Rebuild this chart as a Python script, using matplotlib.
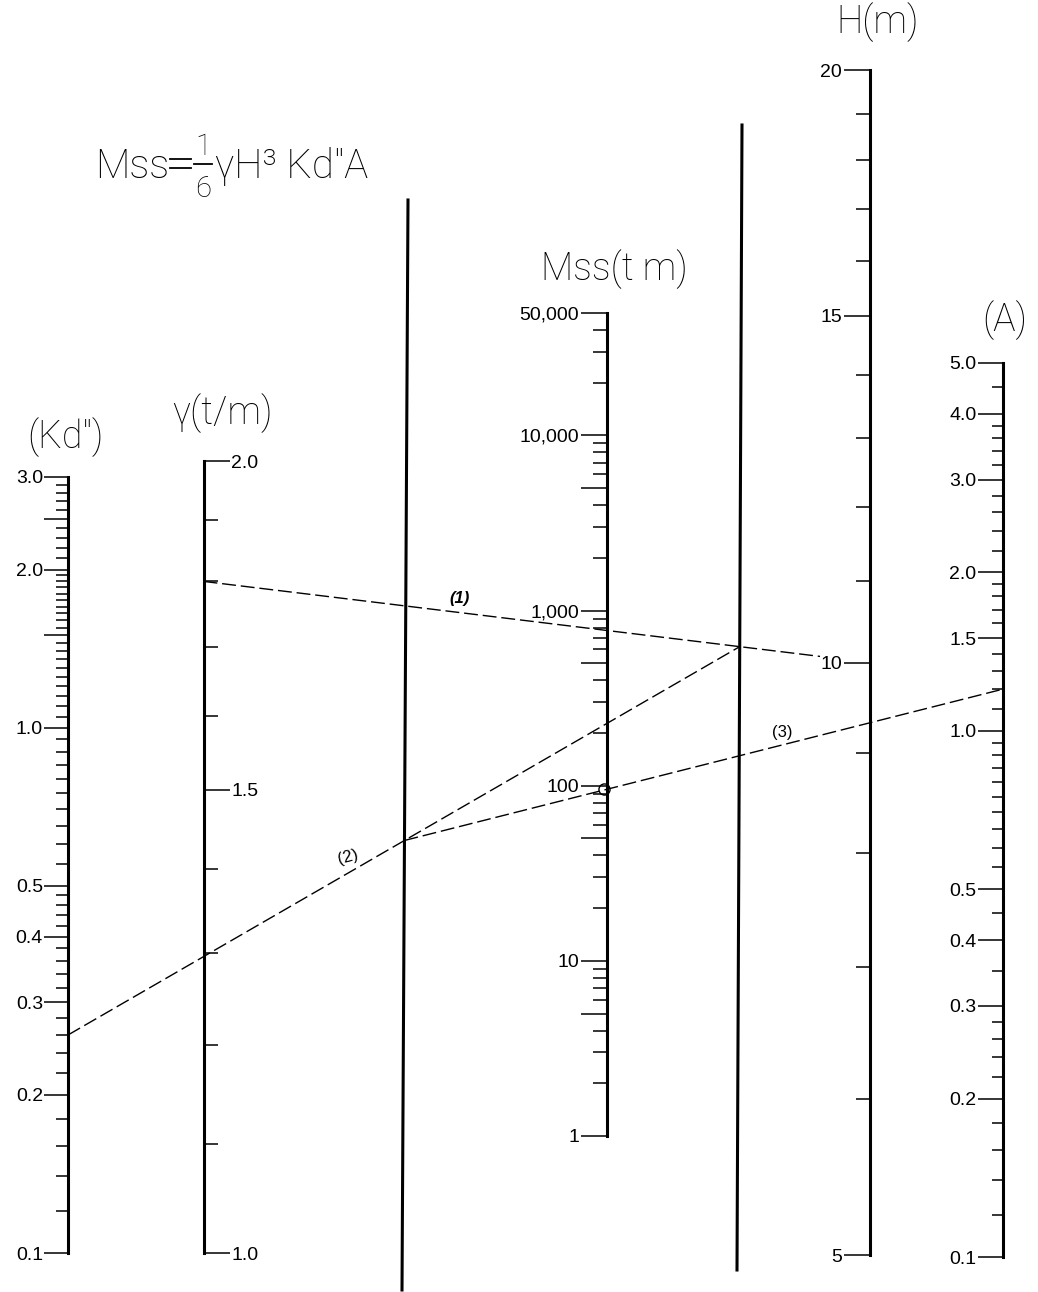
import matplotlib
matplotlib.use("Agg")
import matplotlib.pyplot as plt
import numpy as np
from matplotlib.ticker import FixedLocator, FixedFormatter, NullFormatter

plt.rcParams['lines.scale_dashes'] = False
NARROW = ['Liberation Sans Narrow', 'Liberation Sans', 'DejaVu Sans']
THIN = ['Roboto', 'DejaVu Sans']

# ---- scale values ----
kd_major = [0.1, 0.2, 0.3, 0.4, 0.5, 1.0, 1.5, 2.0, 2.5, 3.0]
kd_labels = ['0.1', '0.2', '0.3', '0.4', '0.5', '1.0', '', '2.0', '', '3.0']
kd_minor = [0.12, 0.14, 0.16, 0.18, 0.22, 0.24, 0.26, 0.28, 0.32, 0.34, 0.36, 0.38,
            0.42, 0.44, 0.46, 0.48, 0.55, 0.6, 0.65, 0.7, 0.75, 0.8, 0.85, 0.9, 0.95,
            1.05, 1.1, 1.15, 1.2, 1.25, 1.3, 1.35, 1.4, 1.45, 1.55, 1.6, 1.65, 1.7,
            1.75, 1.8, 1.85, 1.9, 1.95, 2.1, 2.2, 2.3, 2.4, 2.6, 2.7, 2.8, 2.9]

gamma_major = [1.0, 1.5, 2.0]
gamma_labels = ['1.0', '1.5', '2.0']
gamma_minor = [1.1, 1.2, 1.3, 1.4, 1.6, 1.7, 1.8, 1.9]

mss_major = [1, 5, 10, 50, 100, 500, 1000, 5000, 10000, 50000]
mss_labels = ['1', '', '10', '', '100', '', '1,000', '', '10,000', '50,000']
mss_minor = [2, 3, 4, 6, 7, 8, 9, 20, 30, 40, 60, 70, 80, 90,
             200, 300, 400, 600, 700, 800, 900, 2000, 3000, 4000, 6000, 7000, 8000, 9000,
             20000, 30000, 40000]

h_major = [5, 10, 15, 20]
h_labels = ['5', '10', '15', '20']
h_minor = [6, 7, 8, 9, 11, 12, 13, 14, 16, 17, 18, 19]

a_major = [0.1, 0.2, 0.3, 0.4, 0.5, 1.0, 1.5, 2.0, 3.0, 4.0, 5.0]
a_labels = ['0.1', '0.2', '0.3', '0.4', '0.5', '1.0', '1.5', '2.0', '3.0', '4.0', '5.0']
a_minor = [0.12, 0.14, 0.16, 0.18, 0.22, 0.24, 0.26, 0.28, 0.35, 0.45, 0.55, 0.6, 0.65,
           0.7, 0.75, 0.8, 0.85, 0.9, 0.95, 1.1, 1.2, 1.3, 1.4, 1.6, 1.7, 1.8, 1.9,
           2.2, 2.4, 2.6, 2.8, 3.2, 3.4, 3.6, 3.8, 4.5]

# worked example readings
ex_gamma, ex_h = 1.8, 10      # line (1)
ex_kd = 0.26                  # line (2)
ex_a = 1.2                    # line (3)

W, H = 1038, 1292
fig = plt.figure(figsize=(W / 100, H / 100), dpi=100)


def scale_axis(x, ytop, ybot, vmin, vmax, major, labels, minor, side='left',
               major_len=18, minor_len=9):
    ax = fig.add_axes([x / W, 1 - ybot / H, 0.0005, (ybot - ytop) / H])
    ax.set_yscale('log')
    ax.set_ylim(vmin, vmax)
    ax.set_xlim(0, 1)
    for s in ax.spines.values():
        s.set_visible(False)
    ax.spines[side].set_visible(True)
    ax.spines[side].set_linewidth(2.2)
    ax.patch.set_visible(False)
    ax.set_xticks([])
    if side == 'right':
        ax.yaxis.tick_right()
    else:
        ax.yaxis.tick_left()
    ax.yaxis.set_major_locator(FixedLocator(major))
    ax.yaxis.set_major_formatter(FixedFormatter(labels))
    ax.yaxis.set_minor_locator(FixedLocator(minor))
    ax.yaxis.set_minor_formatter(NullFormatter())
    ax.tick_params(axis='y', which='major', length=major_len, width=1.1, pad=1,
                   labelsize=14, direction='out')
    ax.tick_params(axis='y', which='minor', length=minor_len, width=1.1, direction='out')
    for t in ax.get_yticklabels():
        t.set_family(NARROW)
    return ax


ax_kd = scale_axis(68, 477, 1253, 0.1, 3.0, kd_major, kd_labels, kd_minor, major_len=17, minor_len=9)
ax_g = scale_axis(203, 461, 1253, 1.0, 2.0, gamma_major, gamma_labels, gamma_minor,
                  side='right', major_len=19, minor_len=10)
ax_m = scale_axis(607, 313, 1136, 1, 50000, mss_major, mss_labels, mss_minor, major_len=19, minor_len=10)
ax_h = scale_axis(870, 70, 1255, 5, 20, h_major, h_labels, h_minor, major_len=19, minor_len=10)
ax_a = scale_axis(1003, 363, 1257, 0.1, 5.0, a_major, a_labels, a_minor, major_len=18, minor_len=8)

# overlay in pixel coordinates for the turning lines, example lines and text
ov = fig.add_axes([0, 0, 1, 1])
ov.set_xlim(0, W)
ov.set_ylim(H, 0)
ov.axis('off')


def pt(ax, v):
    side = 1 if ax is ax_g else 0
    d = ax.transData.transform((side, v))
    return ov.transData.inverted().transform(d)


# unscaled turning axes
t1 = np.array([[408, 200], [402, 1290]])
t2 = np.array([[742, 125], [737, 1270]])
ov.plot(t1[:, 0], t1[:, 1], color='black', lw=2.2)
ov.plot(t2[:, 0], t2[:, 1], color='black', lw=2.2)


def cross(p1, p2, q1, q2):
    d1, d2 = p2 - p1, q2 - q1
    m = np.array([[d1[0], -d2[0]], [d1[1], -d2[1]]])
    s, _ = np.linalg.solve(m, q1 - p1)
    return p1 + s * d1


dash = dict(color='black', lw=1.0, dashes=(10, 3.5))
# line (1): gamma -> H
g1, h1 = pt(ax_g, ex_gamma), pt(ax_h, ex_h)
end1 = g1 + 0.925 * (h1 - g1)
ov.plot([g1[0], end1[0]], [g1[1], end1[1]], **dash)
# line (2): Kd -> point on turning axis 2
k2 = pt(ax_kd, ex_kd)
p2 = cross(g1, h1, t2[0].astype(float), t2[1].astype(float))
ov.plot([k2[0], p2[0]], [k2[1], p2[1]], **dash)
# line (3): pivot on turning axis 1 -> A
p1 = cross(k2, p2, t1[0].astype(float), t1[1].astype(float))
a3 = pt(ax_a, ex_a)
ov.plot([p1[0], a3[0]], [p1[1], a3[1]], **dash)
# answer on Mss scale
m3 = cross(p1, a3, np.array([607.0, 300.0]), np.array([607.0, 1200.0]))
ov.plot(m3[0] - 3, m3[1], 'o', mfc='none', mec='black', ms=8, mew=1.0)

ov.text(460, 598, '(1)', fontsize=12, style='italic', fontweight='bold', ha='center',
        va='center', family=NARROW)
ov.text(348, 857, '(2)', fontsize=12, ha='center', va='center', family=NARROW, rotation=15)
ov.text(782, 733, '(3)', fontsize=12, ha='center', va='center', family=NARROW)

# scale titles
tkw = dict(fontsize=27, ha='center', va='center', family=THIN, fontweight='light', color='black')
ov.text(65, 437, '(Kd″)', **tkw)
ov.text(222, 413, 'γ(t/m)', **tkw)
ov.text(614, 269, 'Mss(t m)', **tkw)
ov.text(878, 22, 'H(m)', **tkw)
ov.text(1005, 320, '(A)', **tkw)

# formula: Mss = 1/6 γ H³ Kd″ A
fkw = dict(va='baseline', family=THIN, fontweight='light', color='black')
ov.text(95, 178, 'Mss', fontsize=29, **fkw)
ov.plot([170, 191], [159, 159], color='black', lw=1.3)
ov.plot([170, 191], [168, 168], color='black', lw=1.3)
ov.plot([194, 212], [164, 164], color='black', lw=1.3)
ov.text(203, 155, '1', ha='center', fontsize=21, **fkw)
ov.text(203, 197, '6', ha='center', fontsize=21, **fkw)
ov.text(215, 178, 'γH³ Kd″A', fontsize=29, **fkw)

fig.savefig('out.png', dpi=100, facecolor='white')
